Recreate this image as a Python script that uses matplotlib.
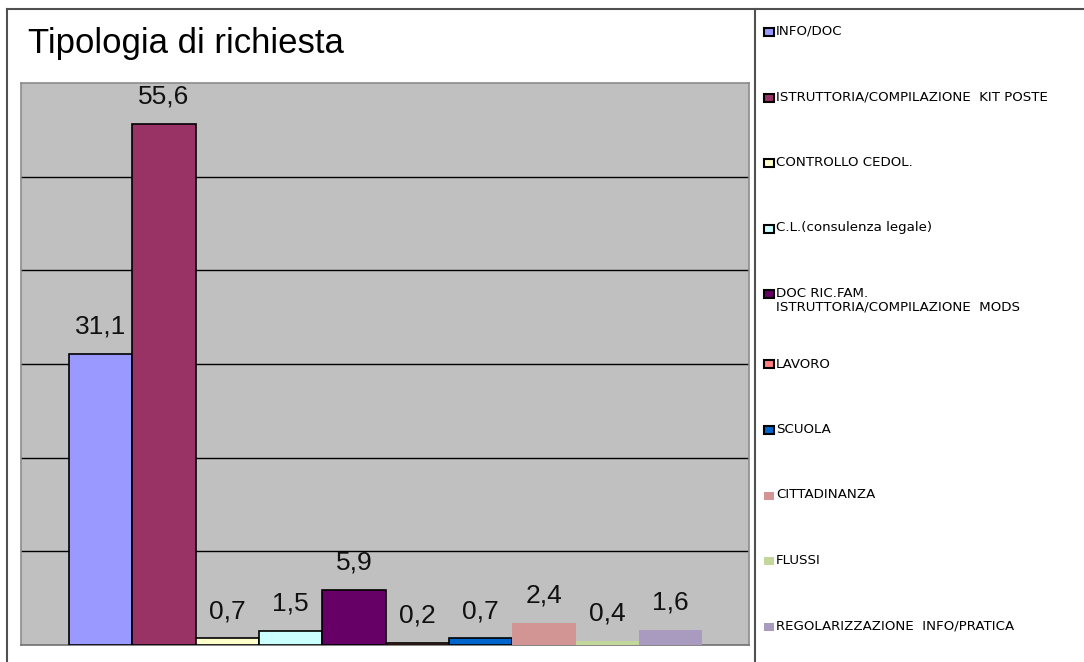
import matplotlib
matplotlib.use('Agg')
import matplotlib.pyplot as plt
from matplotlib.lines import Line2D
from matplotlib.patches import Rectangle

# Survey data: share of requests by type (%)
categories = [
    "INFO/DOC",
    "ISTRUTTORIA/COMPILAZIONE  KIT POSTE",
    "CONTROLLO CEDOL.",
    "C.L.(consulenza legale)",
    "DOC RIC.FAM.\nISTRUTTORIA/COMPILAZIONE  MODS",
    "LAVORO",
    "SCUOLA",
    "CITTADINANZA",
    "FLUSSI",
    "REGOLARIZZAZIONE  INFO/PRATICA",
]
values = [31.1, 55.6, 0.7, 1.5, 5.9, 0.2, 0.7, 2.4, 0.4, 1.6]
colors = ["#9999FF", "#993366", "#FFFFCC", "#CCFFFF", "#660066",
          "#FF8080", "#0066CC", "#D39494", "#C3D69B", "#A99BC0"]
outlined = [True, True, True, True, True, True, True, False, False, False]

W, H = 1084, 662
fig = plt.figure(figsize=(W / 100, H / 100), dpi=100)
fig.patch.set_facecolor("white")

# plot area (pixel box converted to figure fractions)
px_left, px_right, px_top, px_bottom = 21, 749, 83, 645
ax = fig.add_axes([px_left / W, (H - px_bottom) / H,
                   (px_right - px_left) / W, (px_bottom - px_top) / H])
ax.set_facecolor("#C0C0C0")

for i, (v, c, o) in enumerate(zip(values, colors, outlined)):
    ax.bar(i, v, width=1.0, color=c,
           edgecolor="black" if o else c,
           linewidth=1.2 if o else 0, zorder=3)
    ax.annotate(f"{v:.1f}".replace(".", ","), (i, v), xytext=(0, 11),
                textcoords="offset points", ha="center", va="bottom",
                fontsize=19, family="Liberation Sans", color="#111111")

ax.set_xlim(-1.26, 10.24)
ax.set_ylim(0, 60)
ax.set_yticks([10, 20, 30, 40, 50])
ax.set_xticks([])
ax.tick_params(left=False, labelleft=False)
ax.yaxis.grid(True, color="black", linewidth=1.0, zorder=0)
ax.set_axisbelow(True)
for s in ax.spines.values():
    s.set_color("#8C8C8C")
    s.set_linewidth(1.2)
ax.spines["bottom"].set_color("#707070")

# title
fig.text(28 / W, 1 - 44 / H, "Tipologia di richiesta", fontsize=25,
         family="Liberation Sans", ha="left", va="center", color="black")

# chart frame and legend separator
frame = dict(color="#505050", linewidth=1.5)
fig.add_artist(Line2D([7 / W, 1], [1 - 9 / H, 1 - 9 / H], **frame))
fig.add_artist(Line2D([7 / W, 7 / W], [0, 1 - 9 / H], **frame))
fig.add_artist(Line2D([755 / W, 755 / W], [0, 1 - 9 / H], **frame))

# legend entries down the right-hand panel
for i, (lab, c, o) in enumerate(zip(categories, colors, outlined)):
    yc = 32 + 65.5 * i + (5 if i >= 5 else 0)
    fig.add_artist(Rectangle((764 / W, 1 - (yc + 4) / H), 10 / W, 8 / H,
                             transform=fig.transFigure,
                             facecolor=c,
                             edgecolor="black" if o else c,
                             linewidth=1.5 if o else 0))
    fig.text(776 / W, 1 - (yc - 7) / H, lab, fontsize=9.6,
             family="DejaVu Sans", ha="left", va="top",
             linespacing=1.0, color="black")

fig.savefig("out.png", dpi=100)
